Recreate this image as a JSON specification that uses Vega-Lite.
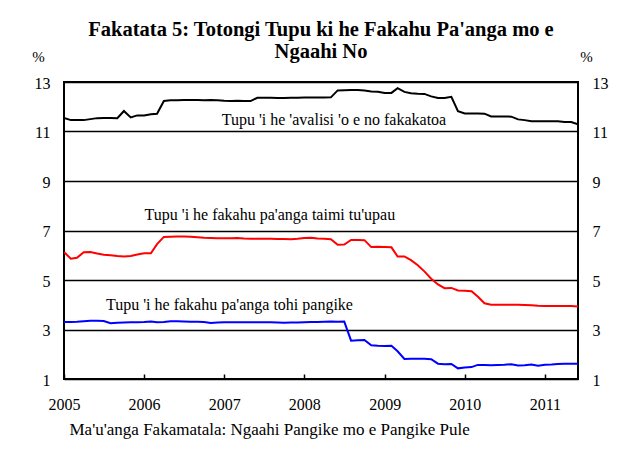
{
  "$schema": "https://vega.github.io/schema/vega-lite/v6.json",
  "width": 514,
  "height": 297,
  "autosize": {"type": "none"},
  "padding": {"left": 64, "top": 82, "right": 54, "bottom": 70},
  "background": "white",
  "config": {"view": {"stroke": "black", "strokeWidth": 2}, "font": "Liberation Serif, Times New Roman, serif"},
  "title": {
    "text": ["Fakatata 5: Totongi Tupu ki he Fakahu Pa'anga mo e", "Ngaahi No"],
    "font": "Liberation Serif, Times New Roman, serif",
    "fontSize": 20.5,
    "fontWeight": "bold",
    "color": "black",
    "anchor": "middle",
    "lineHeight": 22,
    "offset": -13
  },
  "datasets": {
    "rates": [
      {"date": "2005-01-01", "avg": 11.55, "term": 6.13, "save": 3.30},
      {"date": "2005-02-01", "avg": 11.46, "term": 5.86, "save": 3.30},
      {"date": "2005-03-01", "avg": 11.46, "term": 5.90, "save": 3.31},
      {"date": "2005-04-01", "avg": 11.46, "term": 6.12, "save": 3.33},
      {"date": "2005-05-01", "avg": 11.50, "term": 6.13, "save": 3.35},
      {"date": "2005-06-01", "avg": 11.54, "term": 6.07, "save": 3.35},
      {"date": "2005-07-01", "avg": 11.55, "term": 6.02, "save": 3.34},
      {"date": "2005-08-01", "avg": 11.55, "term": 6.00, "save": 3.25},
      {"date": "2005-09-01", "avg": 11.54, "term": 5.97, "save": 3.27},
      {"date": "2005-10-01", "avg": 11.83, "term": 5.95, "save": 3.28},
      {"date": "2005-11-01", "avg": 11.57, "term": 5.97, "save": 3.29},
      {"date": "2005-12-01", "avg": 11.65, "term": 6.03, "save": 3.29},
      {"date": "2006-01-01", "avg": 11.65, "term": 6.08, "save": 3.30},
      {"date": "2006-02-01", "avg": 11.70, "term": 6.08, "save": 3.32},
      {"date": "2006-03-01", "avg": 11.72, "term": 6.45, "save": 3.29},
      {"date": "2006-04-01", "avg": 12.23, "term": 6.74, "save": 3.30},
      {"date": "2006-05-01", "avg": 12.26, "term": 6.75, "save": 3.33},
      {"date": "2006-06-01", "avg": 12.26, "term": 6.76, "save": 3.33},
      {"date": "2006-07-01", "avg": 12.27, "term": 6.76, "save": 3.32},
      {"date": "2006-08-01", "avg": 12.27, "term": 6.75, "save": 3.31},
      {"date": "2006-09-01", "avg": 12.27, "term": 6.73, "save": 3.31},
      {"date": "2006-10-01", "avg": 12.26, "term": 6.71, "save": 3.30},
      {"date": "2006-11-01", "avg": 12.27, "term": 6.70, "save": 3.26},
      {"date": "2006-12-01", "avg": 12.26, "term": 6.69, "save": 3.28},
      {"date": "2007-01-01", "avg": 12.24, "term": 6.69, "save": 3.29},
      {"date": "2007-02-01", "avg": 12.23, "term": 6.69, "save": 3.29},
      {"date": "2007-03-01", "avg": 12.24, "term": 6.70, "save": 3.29},
      {"date": "2007-04-01", "avg": 12.23, "term": 6.68, "save": 3.29},
      {"date": "2007-05-01", "avg": 12.23, "term": 6.67, "save": 3.29},
      {"date": "2007-06-01", "avg": 12.36, "term": 6.67, "save": 3.29},
      {"date": "2007-07-01", "avg": 12.36, "term": 6.67, "save": 3.29},
      {"date": "2007-08-01", "avg": 12.36, "term": 6.67, "save": 3.29},
      {"date": "2007-09-01", "avg": 12.35, "term": 6.66, "save": 3.28},
      {"date": "2007-10-01", "avg": 12.35, "term": 6.66, "save": 3.27},
      {"date": "2007-11-01", "avg": 12.36, "term": 6.65, "save": 3.28},
      {"date": "2007-12-01", "avg": 12.36, "term": 6.67, "save": 3.28},
      {"date": "2008-01-01", "avg": 12.37, "term": 6.70, "save": 3.29},
      {"date": "2008-02-01", "avg": 12.37, "term": 6.71, "save": 3.30},
      {"date": "2008-03-01", "avg": 12.37, "term": 6.68, "save": 3.30},
      {"date": "2008-04-01", "avg": 12.37, "term": 6.67, "save": 3.31},
      {"date": "2008-05-01", "avg": 12.38, "term": 6.65, "save": 3.32},
      {"date": "2008-06-01", "avg": 12.66, "term": 6.42, "save": 3.31},
      {"date": "2008-07-01", "avg": 12.67, "term": 6.43, "save": 3.32},
      {"date": "2008-08-01", "avg": 12.68, "term": 6.62, "save": 2.55},
      {"date": "2008-09-01", "avg": 12.68, "term": 6.62, "save": 2.57},
      {"date": "2008-10-01", "avg": 12.66, "term": 6.61, "save": 2.58},
      {"date": "2008-11-01", "avg": 12.62, "term": 6.33, "save": 2.36},
      {"date": "2008-12-01", "avg": 12.61, "term": 6.34, "save": 2.34},
      {"date": "2009-01-01", "avg": 12.56, "term": 6.33, "save": 2.33},
      {"date": "2009-02-01", "avg": 12.56, "term": 6.32, "save": 2.34},
      {"date": "2009-03-01", "avg": 12.75, "term": 5.95, "save": 2.12},
      {"date": "2009-04-01", "avg": 12.60, "term": 5.95, "save": 1.81},
      {"date": "2009-05-01", "avg": 12.55, "term": 5.80, "save": 1.82},
      {"date": "2009-06-01", "avg": 12.53, "term": 5.60, "save": 1.82},
      {"date": "2009-07-01", "avg": 12.52, "term": 5.35, "save": 1.82},
      {"date": "2009-08-01", "avg": 12.42, "term": 5.05, "save": 1.80},
      {"date": "2009-09-01", "avg": 12.35, "term": 4.82, "save": 1.62},
      {"date": "2009-10-01", "avg": 12.35, "term": 4.67, "save": 1.60},
      {"date": "2009-11-01", "avg": 12.40, "term": 4.68, "save": 1.61},
      {"date": "2009-12-01", "avg": 11.82, "term": 4.58, "save": 1.43},
      {"date": "2010-01-01", "avg": 11.73, "term": 4.57, "save": 1.46},
      {"date": "2010-02-01", "avg": 11.73, "term": 4.55, "save": 1.48},
      {"date": "2010-03-01", "avg": 11.73, "term": 4.33, "save": 1.57},
      {"date": "2010-04-01", "avg": 11.72, "term": 4.06, "save": 1.57},
      {"date": "2010-05-01", "avg": 11.61, "term": 4.00, "save": 1.56},
      {"date": "2010-06-01", "avg": 11.61, "term": 4.00, "save": 1.57},
      {"date": "2010-07-01", "avg": 11.61, "term": 4.00, "save": 1.58},
      {"date": "2010-08-01", "avg": 11.60, "term": 4.00, "save": 1.60},
      {"date": "2010-09-01", "avg": 11.49, "term": 4.00, "save": 1.55},
      {"date": "2010-10-01", "avg": 11.46, "term": 3.99, "save": 1.56},
      {"date": "2010-11-01", "avg": 11.41, "term": 3.98, "save": 1.59},
      {"date": "2010-12-01", "avg": 11.41, "term": 3.96, "save": 1.54},
      {"date": "2011-01-01", "avg": 11.41, "term": 3.95, "save": 1.58},
      {"date": "2011-02-01", "avg": 11.41, "term": 3.95, "save": 1.59},
      {"date": "2011-03-01", "avg": 11.41, "term": 3.95, "save": 1.61},
      {"date": "2011-04-01", "avg": 11.38, "term": 3.95, "save": 1.62},
      {"date": "2011-05-01", "avg": 11.38, "term": 3.95, "save": 1.62},
      {"date": "2011-06-01", "avg": 11.29, "term": 3.93, "save": 1.62}
    ],
    "labels": [
      {"date": "2008-05-15", "rate": 11.46, "label": "Tupu 'i he 'avalisi 'o e no fakakatoa"},
      {"date": "2007-07-28", "rate": 7.63, "label": "Tupu 'i he fakahu pa'anga taimi tu'upau"},
      {"date": "2007-01-25", "rate": 3.97, "label": "Tupu 'i he fakahu pa'anga tohi pangike"}
    ]
  },
  "layer": [
    {
      "data": {"name": "rates"},
      "transform": [{"fold": ["avg", "term", "save"], "as": ["series", "rate"]}],
      "mark": {"type": "line", "strokeWidth": 2, "clip": true},
      "encoding": {
        "x": {
          "field": "date",
          "type": "temporal",
          "scale": {
            "type": "utc",
            "domain": [
              {"year": 2005, "month": 1, "date": 1, "utc": true},
              {"year": 2011, "month": 6, "date": 1, "utc": true}
            ]
          },
          "axis": {
            "values": [
              {"year": 2005, "month": 1, "date": 1, "utc": true},
              {"year": 2006, "month": 1, "date": 1, "utc": true},
              {"year": 2007, "month": 1, "date": 1, "utc": true},
              {"year": 2008, "month": 1, "date": 1, "utc": true},
              {"year": 2009, "month": 1, "date": 1, "utc": true},
              {"year": 2010, "month": 1, "date": 1, "utc": true},
              {"year": 2011, "month": 1, "date": 1, "utc": true}
            ],
            "formatType": "utc",
            "format": "%Y",
            "grid": false,
            "domain": false,
            "tickSize": -5,
            "tickColor": "black",
            "tickWidth": 1.5,
            "labelPadding": 22,
            "labelFlush": false,
            "labelOverlap": false,
            "labelFont": "Liberation Serif, Times New Roman, serif",
            "labelFontSize": 16,
            "labelColor": "black",
            "title": "Ma'u'anga Fakamatala: Ngaahi Pangike mo e Pangike Pule",
            "titleFont": "Liberation Serif, Times New Roman, serif",
            "titleFontSize": 17,
            "titleFontWeight": "normal",
            "titleColor": "black",
            "titleAnchor": "start",
            "titleAlign": "left",
            "titleBaseline": "middle",
            "titleX": 5,
            "titleY": 50
          }
        },
        "y": {
          "field": "rate",
          "type": "quantitative",
          "scale": {"domain": [1, 13], "nice": false, "zero": false},
          "axis": {
            "orient": "left",
            "values": [1, 3, 5, 7, 9, 11, 13],
            "grid": true,
            "gridColor": "black",
            "gridWidth": 1.5,
            "gridOpacity": 1,
            "domain": false,
            "ticks": false,
            "labelPadding": 14,
            "labelOffset": 1,
            "labelFont": "Liberation Serif, Times New Roman, serif",
            "labelFontSize": 16,
            "labelColor": "black",
            "title": "%",
            "titleAngle": 0,
            "titleX": -26,
            "titleY": -26,
            "titleAlign": "center",
            "titleBaseline": "middle",
            "titleFont": "Liberation Serif, Times New Roman, serif",
            "titleFontSize": 15,
            "titleFontWeight": "normal",
            "titleColor": "black"
          }
        },
        "color": {
          "field": "series",
          "type": "nominal",
          "scale": {"domain": ["avg", "term", "save"], "range": ["#000000", "#ff0000", "#0000ff"]},
          "legend": null
        }
      }
    },
    {
      "data": {"name": "labels"},
      "mark": {"type": "text", "font": "Liberation Serif, Times New Roman, serif", "fontSize": 16, "align": "center", "baseline": "middle", "color": "black"},
      "encoding": {
        "x": {"field": "date", "type": "temporal"},
        "y": {
          "field": "rate",
          "type": "quantitative",
          "axis": {
            "orient": "right",
            "values": [1, 3, 5, 7, 9, 11, 13],
            "grid": false,
            "domain": false,
            "ticks": false,
            "labelPadding": 14,
            "labelOffset": 1,
            "labelFont": "Liberation Serif, Times New Roman, serif",
            "labelFontSize": 16,
            "labelColor": "black",
            "title": "%",
            "titleAngle": 0,
            "titleX": 8,
            "titleY": -26,
            "titleAlign": "center",
            "titleBaseline": "middle",
            "titleFont": "Liberation Serif, Times New Roman, serif",
            "titleFontSize": 15,
            "titleFontWeight": "normal",
            "titleColor": "black"
          }
        },
        "text": {"field": "label"}
      }
    }
  ],
  "resolve": {"axis": {"y": "independent"}}
}
